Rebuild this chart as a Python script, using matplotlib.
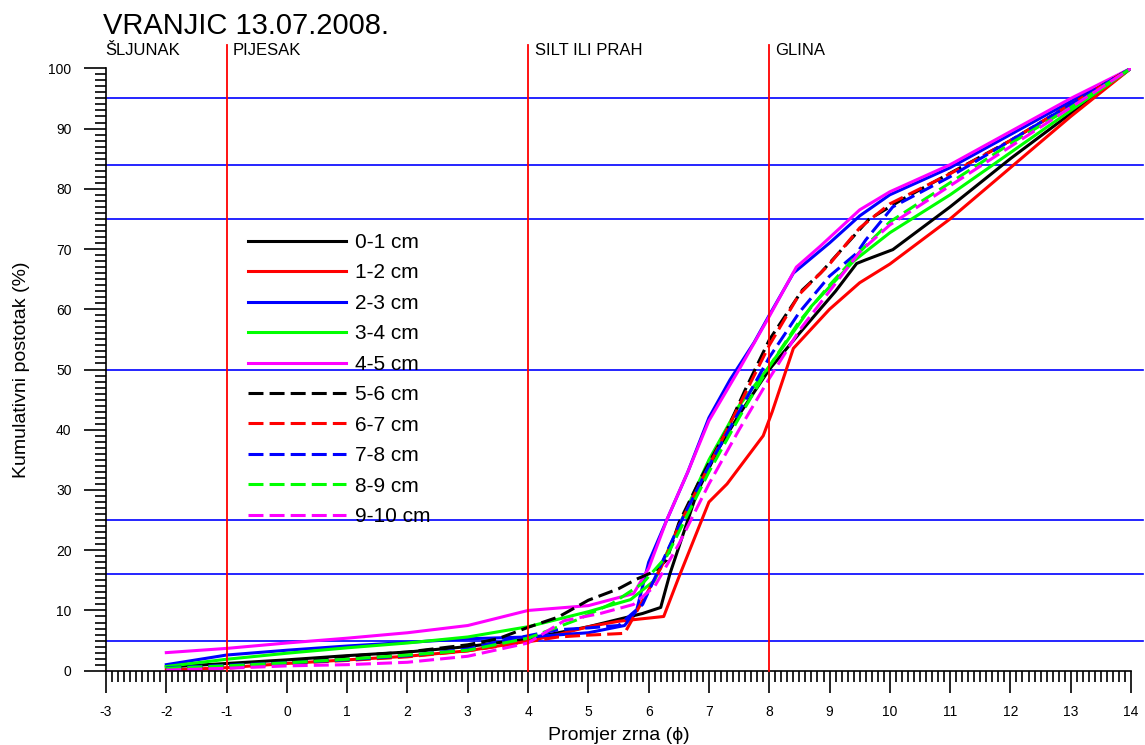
import matplotlib
matplotlib.use("Agg")
import matplotlib.pyplot as plt
from matplotlib.ticker import MultipleLocator

plt.rcParams['font.family'] = ['Liberation Sans', 'DejaVu Sans']
plt.rcParams['axes.unicode_minus'] = False

title = "VRANJIC 13.07.2008."
xlabel = "Promjer zrna (\u03d5)"
ylabel = "Kumulativni postotak (%)"

labels = ["0-1 cm", "1-2 cm", "2-3 cm", "3-4 cm", "4-5 cm",
          "5-6 cm", "6-7 cm", "7-8 cm", "8-9 cm", "9-10 cm"]
colors = ["#000000", "#ff0000", "#0000ff", "#00ff00", "#ff00ff",
          "#000000", "#ff0000", "#0000ff", "#00ff00", "#ff00ff"]

# series data (phi, cumulative %)
x01 = [-2, -1, 0, 1, 2, 3, 4, 5, 5.9, 6.2, 6.35, 6.8, 7.15, 7.5, 8.0, 8.5, 9.1, 9.45, 9.6, 10.05, 11, 12, 13, 14]
y01 = [0.6, 1.2, 1.8, 2.5, 3.1, 4.0, 5.3, 7.3, 9.5, 10.5, 16, 29.5, 36.7, 42.5, 50, 56, 63, 67.6, 68.2, 69.9, 77, 85, 92.5, 100]

x12 = [-2, -1, 0, 1, 2, 3, 4, 4.5, 5, 5.5, 6.25, 6.5, 7.0, 7.3, 7.6, 7.9, 8.05, 8.4, 9.0, 9.5, 10, 11, 12, 13, 14]
y12 = [0.1, 0.5, 1.2, 1.8, 2.4, 3.3, 4.9, 6.0, 7.3, 8.2, 9.0, 15.5, 28, 31, 35, 39, 43, 53.5, 60, 64.4, 67.5, 75, 83.5, 92, 100]

x23 = [-2, -1, 0, 1, 2, 3, 4, 5, 5.6, 5.8, 6.0, 6.3, 6.65, 7.0, 7.35, 7.75, 8.0, 8.4, 9.0, 9.5, 10, 11, 12, 13, 14]
y23 = [1.0, 2.6, 3.4, 4.1, 4.7, 5.3, 5.6, 6.3, 7.5, 10, 18, 25, 33, 42, 48.3, 54.5, 59, 66, 71, 75.5, 79, 83.5, 89, 94.5, 100]

x34 = [-2, -1, 0, 1, 2, 3, 4, 5, 5.7, 6.1, 6.5, 7.0, 7.5, 8.0, 8.7, 9.4, 10, 11, 12, 13, 14]
y34 = [0.7, 1.9, 2.9, 3.8, 4.6, 5.6, 7.3, 9.8, 11.8, 15, 24, 35, 44, 50.5, 60.5, 68, 72.7, 79, 86, 93, 100]

x45 = [-2, -1, 0, 1, 2, 3, 4, 5, 5.75, 6.0, 6.3, 6.65, 7.0, 7.5, 8.0, 8.45, 8.85, 9.5, 10.0, 11, 12, 13, 14]
y45 = [3.0, 3.7, 4.6, 5.4, 6.3, 7.5, 10.0, 10.8, 12.8, 17, 25, 33, 41.5, 50, 58.8, 67, 70.5, 76.5, 79.5, 84, 89.5, 95, 100]

x56 = [-2, -1, 0, 1, 2, 3, 3.5, 4, 4.5, 5, 5.5, 5.8, 6.1, 6.3, 6.5, 6.85, 7.3, 7.6, 8.0, 8.55, 8.85, 9.65, 10.2, 10.8, 12, 13, 14]
y56 = [0.3, 1.0, 1.6, 2.4, 3.1, 4.3, 5.3, 7.2, 8.9, 11.7, 13.6, 15.2, 16.5, 18.4, 24.5, 31.7, 40, 46.6, 54.9, 63.2, 66, 74.9, 78.2, 81.5, 88, 94, 100]

x67 = [-2, -1, 0, 1, 2, 3, 4, 4.5, 5.0, 5.6, 6.2, 6.5, 7.0, 7.5, 8.0, 8.5, 9.0, 9.5, 10, 11, 12, 13, 14]
y67 = [0.0, 0.4, 1.2, 1.7, 2.3, 3.3, 4.8, 5.6, 5.9, 6.2, 17, 24, 34, 44, 54, 62.5, 67.5, 73.5, 77.5, 82.5, 88, 94, 100]

x78 = [-2, -1, 0, 1, 2, 3, 3.5, 4, 4.5, 5, 5.5, 5.9, 6.2, 6.5, 7, 7.5, 8, 8.5, 9, 9.45, 9.6, 10.05, 11, 12, 13, 14]
y78 = [0.5, 0.9, 1.3, 1.8, 2.5, 3.6, 4.8, 5.8, 6.8, 7.1, 7.5, 11, 17.5, 24, 34, 43, 52, 59.5, 65.5, 69.3, 71.5, 77, 82, 88, 94, 100]

x89 = [-2, -1, 0, 1, 2, 3, 4, 4.8, 5.4, 5.9, 6.3, 6.6, 7, 7.5, 8, 8.5, 9, 9.5, 10, 11, 12, 13, 14]
y89 = [0.4, 0.8, 1.3, 1.9, 2.6, 3.4, 5.4, 8.4, 11.2, 14.5, 19, 25, 33, 42, 50.5, 58, 64, 69.5, 74.5, 81, 87.5, 93.5, 100]

x910 = [-2, -1, 0, 1, 2, 3, 4, 4.6, 5.2, 5.75, 6.1, 6.5, 7, 7.5, 8, 8.5, 9, 9.5, 10, 11, 12, 13, 14]
y910 = [0.1, 0.4, 0.8, 1.0, 1.4, 2.4, 4.6, 8.3, 9.5, 11, 14, 21, 31, 40, 48.5, 56.5, 63, 69.5, 74, 80.5, 87, 93.5, 100]

xs = [x01, x12, x23, x34, x45, x56, x67, x78, x89, x910]
ys = [y01, y12, y23, y34, y45, y56, y67, y78, y89, y910]

ref_levels = [5, 16, 25, 50, 75, 84, 95]
class_bounds = [-1, 4, 8]
class_names = ["ŠLJUNAK", "PIJESAK", "SILT ILI PRAH", "GLINA"]
class_label_x = [-3.02, -0.9, 4.11, 8.1]

W, H = 1145, 745
fig = plt.figure(figsize=(W / 100, H / 100), dpi=100)
ax = fig.add_axes([106 / W, 1 - 670.7 / H, (1131 - 106) / W, (670.7 - 68.3) / H])
ax.set_xlim(-3, 14)
ax.set_ylim(0, 100)

for lv in ref_levels:
    ax.axhline(lv, xmin=0, xmax=1.012, color="#0000ff", lw=1.2, clip_on=False, zorder=1)

for xb in class_bounds:
    ax.plot([xb, xb], [0, 103.8], color="#ff0000", lw=1.3, clip_on=False, zorder=3)

for i in range(10):
    if i < 5:
        ax.plot(xs[i], ys[i], color=colors[i], lw=2.2, label=labels[i], zorder=2,
                solid_joinstyle='round')
    else:
        ax.plot(xs[i], ys[i], color=colors[i], lw=2.2, label=labels[i], zorder=2,
                dashes=(4.9, 2.0))

for name, lx in zip(class_names, class_label_x):
    ax.text(lx, 102.9, name, fontsize=12, va="center", ha="left", clip_on=False)

ax.spines['top'].set_visible(False)
ax.spines['right'].set_visible(False)
ax.spines['left'].set_linewidth(1.2)
ax.spines['bottom'].set_linewidth(1.2)

ax.xaxis.set_major_locator(MultipleLocator(1))
ax.xaxis.set_minor_locator(MultipleLocator(0.1))
ax.yaxis.set_major_locator(MultipleLocator(10))
ax.yaxis.set_minor_locator(MultipleLocator(1))
ax.tick_params(which='major', length=15.8, width=1.2, direction='out', labelsize=10, pad=9)
ax.tick_params(which='minor', length=8, width=1.2, direction='out')

ax.set_xlabel(xlabel, fontsize=14, labelpad=6)
ax.set_ylabel(ylabel, fontsize=14, labelpad=13)

fig.text(103 / W, 1 - 26 / H, title, fontsize=21, va="center", ha="left")

leg = ax.legend(loc="upper left", bbox_to_anchor=(248 / W, 1 - 233 / H),
                bbox_transform=fig.transFigure, frameon=False, fontsize=15,
                handlelength=4.7, handletextpad=0.45, labelspacing=0.55,
                borderpad=0, borderaxespad=0)

fig.savefig("out.png", dpi=100)
